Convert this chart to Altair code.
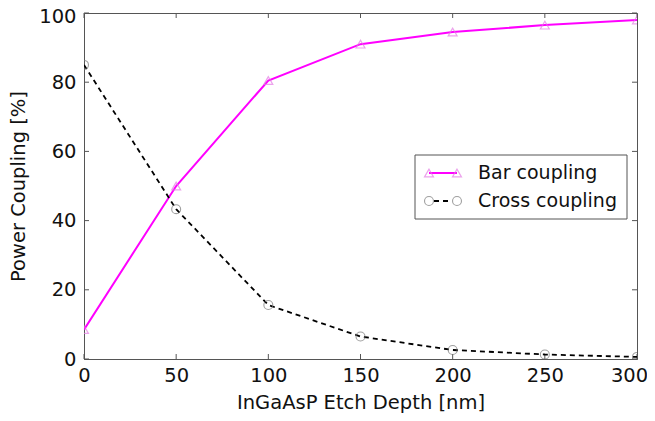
import altair as alt
import pandas as pd

# ---- data ----
depth = [0, 50, 100, 150, 200, 250, 300]
bar_coupling = [8.5, 50.0, 80.5, 91.0, 94.5, 96.5, 98.0]
cross_coupling = [85.0, 43.3, 15.6, 6.5, 2.6, 1.3, 0.6]
series_names = ["Bar coupling", "Cross coupling"]
x_ticks = [0, 50, 100, 150, 200, 250, 300]
y_ticks = [0, 20, 40, 60, 80, 100]

W, H = 553, 346
FONT = "DejaVu Sans"
FS = 19.5
MAGENTA = "#ff00ff"
TRI = "#e47ce4"
CIRC = "#777777"
FRAME = "#555555"

bar_df = pd.DataFrame({"depth": depth, "value": bar_coupling})
cross_df = pd.DataFrame({"depth": depth, "value": cross_coupling})
xt_df = pd.DataFrame({"t": x_ticks})
yt_df = pd.DataFrame({"t": y_ticks})

xscale = alt.Scale(domain=[0, 300], nice=False)
yscale = alt.Scale(domain=[0, 100], nice=False)

X = alt.X("depth:Q", scale=xscale,
          axis=alt.Axis(values=x_ticks, title="InGaAsP Etch Depth [nm]",
                        titlePadding=9, labelPadding=7,
                        labelOffset=alt.condition("datum.value == 300",
                                                  alt.value(-8), alt.value(0))))
Y = alt.Y("value:Q", scale=yscale,
          axis=alt.Axis(values=y_ticks, title="Power Coupling [%]",
                        titlePadding=10, labelPadding=8,
                        labelOffset=alt.condition("datum.value == 100",
                                                  alt.value(3), alt.value(0))))

bar_line = alt.Chart(bar_df).mark_line(color=MAGENTA, strokeWidth=2, clip=True).encode(x=X, y=Y)
bar_pts = alt.Chart(bar_df).mark_point(shape="triangle-up", filled=False, color=TRI,
                                        size=80, strokeWidth=1.2, clip=True).encode(x=X, y=Y)
cross_line = alt.Chart(cross_df).mark_line(color="black", strokeWidth=1.8,
                                           strokeDash=[5, 4], clip=True).encode(x=X, y=Y)
cross_pts = alt.Chart(cross_df).mark_point(shape="circle", filled=False, color=CIRC,
                                            size=80, strokeWidth=1.1, clip=True).encode(x=X, y=Y)

tick_len = 5
xt_bottom = alt.Chart(xt_df).mark_rule(color=FRAME).encode(
    x=alt.X("t:Q", scale=xscale), y=alt.value(H), y2=alt.value(H - tick_len))
xt_top = alt.Chart(xt_df).mark_rule(color=FRAME).encode(
    x=alt.X("t:Q", scale=xscale), y=alt.value(0), y2=alt.value(tick_len))
yt_left = alt.Chart(yt_df).mark_rule(color=FRAME).encode(
    y=alt.Y("t:Q", scale=yscale), x=alt.value(0), x2=alt.value(tick_len))
yt_right = alt.Chart(yt_df).mark_rule(color=FRAME).encode(
    y=alt.Y("t:Q", scale=yscale), x=alt.value(W), x2=alt.value(W - tick_len))

# ---- legend (drawn by hand, matplotlib style) ----
leg_df = pd.DataFrame({"name": series_names})
one = pd.DataFrame({"k": [0]})
lx0, lx1, ly0, ly1 = 331, 543, 142, 206
row1, row2 = 160, 188
sx0, sx1 = 345, 373
box = alt.Chart(one).mark_rect(fill="white", stroke=FRAME, strokeWidth=1).encode(
    x=alt.value(lx0), x2=alt.value(lx1), y=alt.value(ly0), y2=alt.value(ly1))
l1 = alt.Chart(one).mark_rule(color=MAGENTA, strokeWidth=2).encode(
    x=alt.value(sx0), x2=alt.value(sx1), y=alt.value(row1))
l1p_a = alt.Chart(one).mark_point(shape="triangle-up", filled=False, color=TRI, size=80,
                                  strokeWidth=1.2).encode(x=alt.value(sx0), y=alt.value(row1))
l1p_b = alt.Chart(one).mark_point(shape="triangle-up", filled=False, color=TRI, size=80,
                                  strokeWidth=1.2).encode(x=alt.value(sx1), y=alt.value(row1))
l2 = alt.Chart(one).mark_rule(color="black", strokeWidth=1.8, strokeDash=[5, 4]).encode(
    x=alt.value(sx0 + 5), x2=alt.value(sx1 - 5), y=alt.value(row2))
l2p_a = alt.Chart(one).mark_point(shape="circle", filled=False, color=CIRC, size=80,
                                  strokeWidth=1.1).encode(x=alt.value(sx0), y=alt.value(row2))
l2p_b = alt.Chart(one).mark_point(shape="circle", filled=False, color=CIRC, size=80,
                                  strokeWidth=1.1).encode(x=alt.value(sx1), y=alt.value(row2))
t1 = alt.Chart(leg_df).transform_filter(alt.datum.name == series_names[0]).mark_text(
    align="left", baseline="middle", font=FONT, fontSize=19, color="#111").encode(
    x=alt.value(394), y=alt.value(row1), text="name:N")
t2 = alt.Chart(leg_df).transform_filter(alt.datum.name == series_names[1]).mark_text(
    align="left", baseline="middle", font=FONT, fontSize=19, color="#111").encode(
    x=alt.value(394), y=alt.value(row2), text="name:N")

chart = alt.layer(
    xt_bottom, xt_top, yt_left, yt_right,
    bar_line, cross_line, bar_pts, cross_pts,
    box, l1, l1p_a, l1p_b, l2, l2p_a, l2p_b, t1, t2,
).properties(
    width=W, height=H,
    autosize=alt.AutoSizeParams(type="none"),
    padding={"left": 76, "top": 5, "right": 10, "bottom": 54},
).configure_view(
    stroke=FRAME, strokeWidth=1
).configure_axis(
    grid=False, ticks=False, domainColor=FRAME, domainWidth=1,
    labelFont=FONT, labelFontSize=FS, labelColor="#111", labelFlush=False,
    titleFont=FONT, titleFontSize=FS, titleColor="#111", titleFontWeight="normal",
)

chart.save("out.html", embed_options={"renderer": "svg", "actions": False})
